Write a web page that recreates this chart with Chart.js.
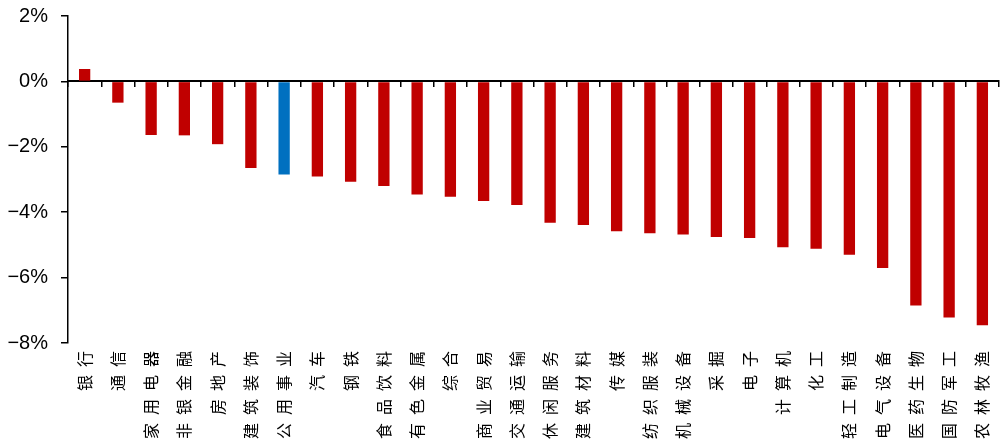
<!DOCTYPE html>
<html>
<head>
<meta charset="utf-8">
<script src="https://cdn.jsdelivr.net/npm/chart.js@4.4.0/dist/chart.umd.min.js"></script>
<style>
  html, body { margin: 0; padding: 0; background: #fff; }
  #wrap { width: 1008px; height: 447px; }
</style>
</head>
<body>
<div id="wrap"><canvas id="chart"></canvas></div>
<script>
// sector names and returns (%)
var sectors = ['银行', '通信', '家用电器', '非银金融', '房地产', '建筑装饰', '公用事业', '汽车',
  '钢铁', '食品饮料', '有色金属', '综合', '商业贸易', '交通运输', '休闲服务', '建筑材料',
  '传媒', '纺织服装', '机械设备', '采掘', '电子', '计算机', '化工', '轻工制造',
  '电气设备', '医药生物', '国防军工', '农林牧渔'];
var returns = [0.38, -0.65, -1.64, -1.65, -1.92, -2.65, -2.85, -2.91,
  -3.07, -3.2, -3.46, -3.53, -3.66, -3.78, -4.32, -4.39,
  -4.58, -4.64, -4.68, -4.76, -4.79, -5.07, -5.12, -5.3,
  -5.71, -6.85, -7.22, -7.46];
var highlight = '公用事业';
var yTicks = [-8, -6, -4, -2, 0, 2];

var barColors = sectors.map(function(s) {
    return s === highlight ? '#0070C0' : '#C00000';
});

// letter spacing only for the rotated sector labels (drawn after datasets)
var spacingPlugin = {
    id: 'labelSpacing',
    afterDatasetsDraw: function(chart) {
        chart.ctx.letterSpacing = '8px';
    },
    afterDraw: function(chart) {
        chart.ctx.letterSpacing = '0px';
    }
};

var ctx = document.getElementById('chart').getContext('2d');
var myChart = new Chart(ctx, {
    type: 'bar',
    data: {
        labels: sectors,
        datasets: [{
            data: returns,
            backgroundColor: barColors,
            borderWidth: 0,
            barPercentage: 0.34,
            categoryPercentage: 1
        }]
    },
    options: {
        responsive: true,
        maintainAspectRatio: false,
        animation: false,
        layout: { padding: { top: 16, right: 9, left: 0, bottom: 0 } },
        plugins: {
            legend: { display: false },
            tooltip: { enabled: false }
        },
        scales: {
            x: {
                position: 'bottom',
                offset: true,
                border: { display: false },
                grid: { display: false, drawTicks: false },
                ticks: {
                    z: 1,
                    autoSkip: false,
                    minRotation: 90,
                    maxRotation: 90,
                    padding: 0,
                    color: '#000',
                    font: { family: "'Noto Sans CJK SC', sans-serif", size: 16 }
                },
                afterFit: function(scale) {
                    scale.height = 104;
                    scale.paddingLeft = 0;
                    scale.paddingRight = 0;
                }
            },
            x2: {
                type: 'category',
                position: { y: 0 },
                offset: true,
                border: { display: true, color: '#000', width: 2 },
                grid: {
                    offset: true,
                    drawOnChartArea: false,
                    drawTicks: true,
                    tickLength: 5,
                    color: '#000',
                    lineWidth: 1.5
                },
                ticks: { display: false }
            },
            y: {
                min: -8,
                max: 2,
                afterBuildTicks: function(scale) {
                    scale.ticks = yTicks.map(function(v) { return { value: v }; });
                },
                border: { display: true, color: '#000', width: 1.5 },
                grid: {
                    drawOnChartArea: false,
                    drawTicks: true,
                    tickLength: 7,
                    color: '#000',
                    lineWidth: 1.5
                },
                ticks: {
                    padding: 13,
                    color: '#000',
                    font: { family: "'Liberation Sans Narrow', 'Liberation Sans', sans-serif", size: 20 },
                    callback: function(v) {
                        return (v < 0 ? '\u2212' + (-v) : v) + '%';
                    }
                },
                afterFit: function(scale) {
                    scale.width = 68;
                    scale.paddingTop = 0;
                    scale.paddingBottom = 0;
                }
            }
        }
    },
    plugins: [spacingPlugin]
});
</script>
</body>
</html>
